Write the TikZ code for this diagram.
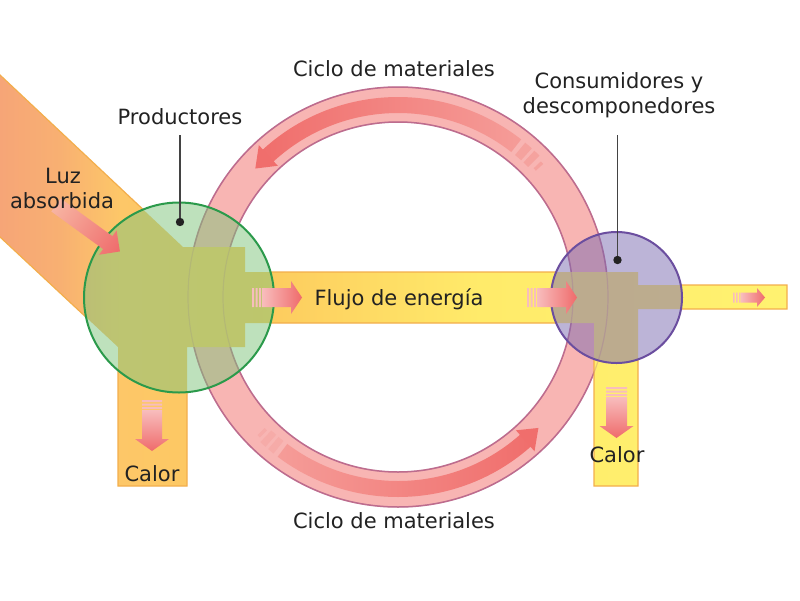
\documentclass[tikz,border=0pt]{standalone}
\usepackage{fontspec}
\setmainfont{DejaVu Sans}
\definecolor{ringfill}{HTML}{F8B5B3}
\definecolor{ringedge}{HTML}{BD6C8E}
\definecolor{bandedge}{HTML}{F3AE4C}
\definecolor{eA}{HTML}{F6A577}
\definecolor{eA2}{HTML}{F8B072}
\definecolor{eB}{HTML}{FDC768}
\definecolor{eC}{HTML}{FDCA5E}
\definecolor{eD}{HTML}{FFEB6A}
\definecolor{eE}{HTML}{FFF270}
\definecolor{greenfill}{HTML}{7FC47B}
\definecolor{greenedge}{HTML}{2B9A4B}
\definecolor{purplefill}{HTML}{7A6AB0}
\definecolor{purpleedge}{HTML}{6B4E9F}
\definecolor{arrowdark}{HTML}{EF6B6B}
\definecolor{arrowlight}{HTML}{F8BDBD}
\definecolor{luzlight}{HTML}{F7B4A2}
\definecolor{arcdark}{HTML}{F06E6C}
\definecolor{arclight}{HTML}{F59C98}
\definecolor{arcstripe}{HTML}{F5A29E}
\definecolor{arcstripeb}{HTML}{F6ABA8}
\definecolor{txt}{HTML}{222222}
\pgfdeclarehorizontalshading{energyshade}{100bp}{color(0bp)=(eA); color(25.3bp)=(eA); color(29.1bp)=(eA2); color(32.9bp)=(eB); color(41.7bp)=(eC); color(55.6bp)=(eD); color(75bp)=(eE); color(100bp)=(eE)}
\newcommand\bandpath{(-5,70.3) -- (183,247) -- (245,247) -- (245,272) -- (638,272) -- (638,285) -- (787,285) -- (787,309) -- (638,309) -- (638,486) -- (594,486) -- (594,323) -- (245,323) -- (245,347) -- (187,347) -- (187,486) -- (118,486) -- (118,347) -- (-5,232.3) -- cycle}
\newcommand\arcsector[4]{(#1:#3) arc[start angle=#1, end angle=#2, radius=#3] -- (#2:#4) arc[start angle=#2, end angle=#1, radius=#4] -- cycle}
\begin{document}
\begin{tikzpicture}[x=1pt,y=-1pt,
  lbl/.style={font=\fontsize{21}{25}\selectfont, text=txt, inner sep=0pt, anchor=base},
  pointer/.style={draw=txt!85!white, line width=1.2pt},
  bubble/.style={circle, inner sep=0pt, line width=2pt}]
\useasboundingbox[fill=white] (0,0) rectangle (800,600);

% ring of materials
\fill[ringfill, even odd rule] (398,297) circle[radius=210] (398,297) circle[radius=175];
\draw[ringedge, line width=1.5pt] (398,297) circle[radius=210] (398,297) circle[radius=175];

% arrows inside the ring
\begin{scope}[shift={(398,297)}]
  % top arrow (towards the left)
  \shade[left color=arcdark, right color=arclight] \arcsector{-52}{-133}{200}{184};
  \fill[arcdark] (-132.5:206) -- (-138:192) -- (-132.5:178) -- cycle;
  \fill[arcstripe] \arcsector{-50.5}{-48}{200}{184};
  \fill[arcstripe] \arcsector{-47}{-45}{200}{184};
  \fill[arcstripe] \arcsector{-43.5}{-42.5}{197}{187};
  % bottom arrow (towards the right)
  \shade[left color=arclight, right color=arcdark] \arcsector{127}{48}{200}{184};
  \fill[arcdark] (48.5:206) -- (43:192) -- (48.5:178) -- cycle;
  \fill[arcstripeb] \arcsector{130.5}{128.5}{200}{184};
  \fill[arcstripeb] \arcsector{133.5}{131.5}{200}{184};
  \fill[arcstripeb] \arcsector{135.5}{134.5}{197}{187};
\end{scope}

% energy band
\path[shading=energyshade] \bandpath;
\begin{scope}
  \clip (0,0) -- (0,600) -- (800,600) -- (800,0) -- cycle
     (179,297.5) circle[radius=95] (616.5,297.5) circle[radius=65.5];
  \draw[bandedge, line width=1.2pt, line join=miter] \bandpath;
\end{scope}
% faint ring edges seen through the band
\draw[ringedge, line width=1.2pt, opacity=0.3] (398,297) circle[radius=210] (398,297) circle[radius=175];

% producers and consumers
\node[bubble, minimum size=190pt, fill=greenfill, fill opacity=0.5, draw=greenedge] (prod) at (179,297.5) {};
\node[bubble, minimum size=131pt, fill=purplefill, fill opacity=0.5, draw=purpleedge] (cons) at (616.5,297.5) {};

% light absorbed arrow
\begin{scope}[transform canvas={shift={(56,205)}, rotate=-36}]
  \shade[left color=luzlight, right color=arrowdark] (0,-8) -- (64,-8) -- (64,-15) -- (79,0) -- (64,15) -- (64,8) -- (0,8) -- cycle;
\end{scope}

% energy flow arrows
\fill[arrowlight] (252,288) rectangle (254,307) (255.5,288) rectangle (257.5,307) (259,288) rectangle (261,307);
\shade[left color=arrowlight, right color=arrowdark] (262,288) -- (291,288) -- (291,281) -- (302,297.5) -- (291,314) -- (291,307) -- (262,307) -- cycle;

\fill[arrowlight] (527,288) rectangle (529,307) (530.5,288) rectangle (532.5,307) (534,288) rectangle (536,307);
\shade[left color=arrowlight, right color=arrowdark] (537,288) -- (566,288) -- (566,281) -- (577,297.5) -- (566,314) -- (566,307) -- (537,307) -- cycle;

\fill[arrowlight] (733,292.5) rectangle (734.5,302.5) (736,292.5) rectangle (737.5,302.5) (739,292.5) rectangle (740.5,302.5);
\shade[left color=arrowlight, right color=arrowdark] (741,292.5) -- (757,292.5) -- (757,288) -- (765,297.5) -- (757,307) -- (757,302.5) -- (741,302.5) -- cycle;

% heat arrows
\fill[arrowlight] (142,400) rectangle (162,402) (142,403.5) rectangle (162,405.5) (142,407) rectangle (162,409);
\shade[top color=arrowlight, bottom color=arrowdark] (142,410) -- (142,439) -- (135,439) -- (152,451) -- (169,439) -- (162,439) -- (162,410) -- cycle;

\fill[arrowlight] (606,387) rectangle (627,389) (606,390.5) rectangle (627,392.5) (606,394) rectangle (627,396);
\shade[top color=arrowlight, bottom color=arrowdark] (606,397) -- (606,426) -- (599.5,426) -- (616.5,438) -- (633.5,426) -- (627,426) -- (627,397) -- cycle;

% pointers
\coordinate (prodtop) at (180,135);
\coordinate (proddot) at (180,222);
\coordinate (constop) at (617.5,135);
\coordinate (consdot) at (617.5,260);
\draw[pointer] (prodtop) -- (proddot);
\fill[txt] (proddot) circle[radius=4.2];
\draw[pointer] (constop) -- (consdot);
\fill[txt] (consdot) circle[radius=4.2];

% labels
\node[lbl] (prodlbl) at (180,124) {Productores};
\node[lbl] (ciclotop) at (394,76) {Ciclo de materiales};
\node[lbl] (ciclobot) at (394,528.5) {Ciclo de materiales};
\node[lbl] (cons1) at (619,88) {Consumidores y};
\node[lbl] (cons2) at (619,113) {descomponedores};
\node[lbl] (luz1) at (63,183) {Luz};
\node[lbl] (luz2) at (62,208) {absorbida};
\node[lbl] (flujo) at (399,305) {Flujo de energía};
\node[lbl] (calor1) at (152,481) {Calor};
\node[lbl] (calor2) at (617,462) {Calor};
\end{tikzpicture}
\end{document}
